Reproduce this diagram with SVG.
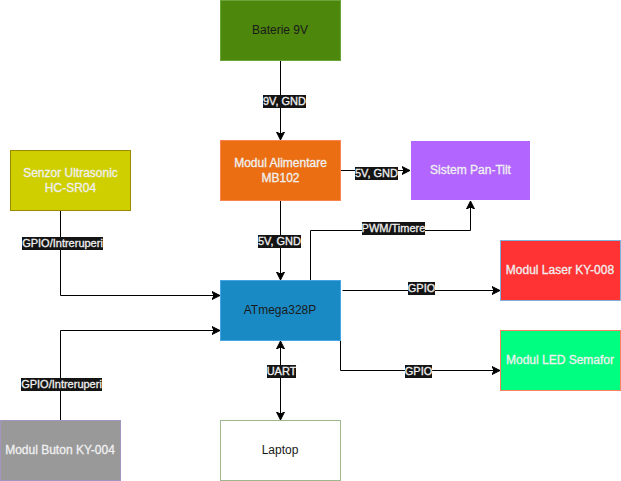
<svg xmlns="http://www.w3.org/2000/svg" width="621" height="481" viewBox="0 0 621 481">
<defs>
<marker id="a" markerUnits="userSpaceOnUse" markerWidth="10" markerHeight="10" refX="8" refY="4.5" orient="auto-start-reverse"><path d="M0 0.5L8 4.5L0 8.5L2 4.5Z" fill="#000" stroke="#000" stroke-width="1"/></marker>
</defs>
<style>
text{font-family:"Liberation Sans",Arial,sans-serif;font-size:12px;text-anchor:middle}
.n{stroke-width:1}
.l{font-size:11px;fill:#f0f0f0;stroke:#f0f0f0;stroke-width:.3}
.w{fill:#f0f0f0;stroke:#f0f0f0;stroke-width:.3}
.d{fill:#1a1a1a}
#connectors path{fill:none;stroke:#000;stroke-width:1;marker-end:url(#a)}
.b{fill:#141414}
</style>
<rect width="621" height="481" fill="#fff"/>
<g id="connectors">
<path d="M280.500 60.500V140"/>
<path d="M340.500 170.500H410"/>
<path d="M280.500 200.500V280"/>
<path d="M310.500 280.500V230.500H470.500V201"/>
<path d="M60.500 210.500V295.500H220"/>
<path d="M60.500 420.500V330.500H220"/>
<path d="M342.500 290.500H500"/>
<path d="M340.500 340.500V370.500H500"/>
<path d="M280.500 420V341" style="marker-start:url(#a)"/>
<rect class="b" x="263" y="95" width="43" height="13"/><text class="l" x="284.500" y="105">9V, GND</text>
<rect class="b" x="355" y="167" width="43" height="13"/><text class="l" x="376.500" y="177">5V, GND</text>
<rect class="b" x="258" y="235" width="43" height="13"/><text class="l" x="279.500" y="245">5V, GND</text>
<rect class="b" x="362" y="222" width="63" height="13"/><text class="l" x="393.500" y="232">PWM/Timere</text>
<rect class="b" x="22" y="237" width="81" height="13"/><text class="l" x="62.500" y="247">GPIO/Intreruperi</text>
<rect class="b" x="21" y="378" width="81" height="13"/><text class="l" x="61.500" y="388">GPIO/Intreruperi</text>
<rect class="b" x="408" y="282" width="27" height="13"/><text class="l" x="421.500" y="292">GPIO</text>
<rect class="b" x="405" y="365" width="27" height="13"/><text class="l" x="418.500" y="375">GPIO</text>
<rect class="b" x="267" y="365" width="29" height="13"/><text class="l" x="281.500" y="375">UART</text>
</g>
<g id="baterie"><rect class="n" x="220.500" y="0.500" width="120" height="60" fill="#4d870c" stroke="#6aa53a"/><text class="d" x="280" y="34">Baterie 9V</text></g>
<g id="alimentare"><rect class="n" x="220.500" y="140.500" width="120" height="60" fill="#eb6f12" stroke="#fb8350"/><text class="w" x="280.500" y="167">Modul Alimentare</text><text class="w" x="280.500" y="182">MB102</text></g>
<g id="pantilt"><rect x="411" y="141" width="119" height="59" fill="#b266ff"/><text class="w" x="470.500" y="174">Sistem Pan-Tilt</text></g>
<g id="senzor"><rect class="n" x="10.500" y="150.500" width="120" height="60" fill="#cfcf00" stroke="#998a00"/><text class="w" x="70.500" y="177">Senzor Ultrasonic</text><text class="w" x="70.500" y="192">HC-SR04</text></g>
<g id="atmega"><rect class="n" x="220.500" y="280.500" width="120" height="60" fill="#1a8ac4" stroke="#45a5e0"/><text class="d" x="280" y="314">ATmega328P</text></g>
<g id="laser"><rect class="n" x="500.500" y="240.500" width="120" height="60" fill="#ff3333" stroke="#82b0d8"/><text class="w" x="560" y="274">Modul Laser KY-008</text></g>
<g id="led"><rect class="n" x="500.500" y="330.500" width="120" height="60" fill="#00ff80" stroke="#fb8060"/><text class="w" x="560" y="364">Modul LED Semafor</text></g>
<g id="buton"><rect class="n" x="0.500" y="420.500" width="120" height="60" fill="#999999" stroke="#a296c0"/><text class="w" x="60" y="454">Modul Buton KY-004</text></g>
<g id="laptop"><rect class="n" x="220.500" y="420.500" width="120" height="60" fill="#ffffff" stroke="#9db88e"/><text class="d" x="280" y="454">Laptop</text></g>
</svg>
